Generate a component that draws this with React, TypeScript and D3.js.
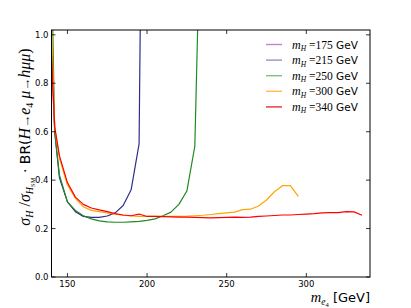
import React from 'react';
import * as d3 from 'd3';

// m_e4 [GeV], sigma ratio * BR
const curve175: [number, number][] = [[140, 2.0], [142, 10.0]];
const curve215: [number, number][] = [
  [140, 0.92], [142, 0.6], [145, 0.41], [150, 0.31], [155, 0.27], [160, 0.25], [165, 0.246],
  [170, 0.246], [175, 0.252], [180, 0.265], [185, 0.295], [190, 0.36], [195, 0.55], [200, 3.9],
];
const curve250: [number, number][] = [
  [140, 1.3], [142, 0.6], [145, 0.42], [150, 0.31], [155, 0.275], [160, 0.253], [165, 0.24],
  [170, 0.232], [175, 0.228], [180, 0.226], [185, 0.226], [190, 0.228], [195, 0.23], [200, 0.234],
  [205, 0.24], [210, 0.253], [215, 0.268], [220, 0.3], [225, 0.355], [230, 0.54], [235, 1.9],
];
const curve300: [number, number][] = [
  [140, 1.05], [142, 0.62], [145, 0.49], [150, 0.38], [155, 0.325], [160, 0.29], [165, 0.275],
  [170, 0.27], [175, 0.265], [180, 0.26], [185, 0.255], [190, 0.252], [195, 0.25], [200, 0.25],
  [205, 0.25], [210, 0.25], [215, 0.25], [220, 0.25], [225, 0.251], [230, 0.253], [235, 0.255],
  [240, 0.258], [245, 0.262], [250, 0.265], [255, 0.268], [260, 0.278], [265, 0.28], [270, 0.293],
  [275, 0.318], [280, 0.352], [285, 0.377], [290, 0.377], [295, 0.333],
];
const curve340: [number, number][] = [
  [140, 0.92], [142, 0.62], [145, 0.5], [150, 0.39], [155, 0.33], [160, 0.3], [165, 0.285],
  [170, 0.277], [175, 0.27], [180, 0.262], [185, 0.256], [190, 0.253], [195, 0.26], [200, 0.25],
  [205, 0.25], [210, 0.249], [215, 0.248], [220, 0.247], [225, 0.247], [230, 0.246], [235, 0.245],
  [240, 0.244], [245, 0.245], [250, 0.246], [255, 0.247], [260, 0.246], [265, 0.247], [270, 0.25],
  [275, 0.252], [280, 0.254], [285, 0.256], [290, 0.256], [295, 0.258], [300, 0.26], [305, 0.262],
  [310, 0.265], [315, 0.266], [320, 0.266], [325, 0.27], [330, 0.269], [335, 0.255],
];

const massLabels = ['175', '215', '250', '300', '340'];
const curves = [curve175, curve215, curve250, curve300, curve340];
const lineColors = ['#c060c0', '#2e2e8a', '#1f8a1f', '#ffa500', '#ff0000'];
const legendColors = ['#cc80cc', '#9494c8', '#80c080', '#ffbe50', '#e83030'];

const xTicks = [150, 200, 250, 300];
const yTicks = [0, 0.2, 0.4, 0.6, 0.8, 1.0];

const W = 411;
const H = 308;
const left = 51.5;
const right = 370;
const top = 30;
const bottom = 277;

const serif = '"Liberation Serif", "DejaVu Serif", serif';
const sans = '"DejaVu Sans", sans-serif';

export default function App() {
  const x = d3.scaleLinear().domain([140, 340]).range([left, right]);
  const y = d3.scaleLinear().domain([0, 1.02]).range([bottom, top]);
  const line = d3.line<[number, number]>().x(d => x(d[0])).y(d => y(d[1]));
  const tickLen = 4;

  return (
    <div style={{ position: 'absolute', left: 0, top: 0 }}>
      <svg width={W} height={H} style={{ display: 'block', background: '#fff' }}>
        <defs>
          <clipPath id="plot">
            <rect x={left} y={top} width={right - left} height={bottom - top} />
          </clipPath>
        </defs>

        <g clipPath="url(#plot)" fill="none" strokeWidth={1.2} strokeLinejoin="round">
          {curves.map((c, i) => (
            <path key={i} d={line(c) || ''} stroke={lineColors[i]} />
          ))}
        </g>

        {/* ticks, inward on all four sides */}
        <g stroke="#000" strokeWidth={0.8}>
          {xTicks.map(t => (
            <g key={t}>
              <line x1={x(t)} x2={x(t)} y1={bottom} y2={bottom - tickLen} />
              <line x1={x(t)} x2={x(t)} y1={top} y2={top + tickLen} />
            </g>
          ))}
          {yTicks.map(t => (
            <g key={t}>
              <line x1={left} x2={left + tickLen} y1={y(t)} y2={y(t)} />
              <line x1={right} x2={right - tickLen} y1={y(t)} y2={y(t)} />
            </g>
          ))}
        </g>
        <rect x={left} y={top} width={right - left} height={bottom - top} fill="none" stroke="#000" strokeWidth={1} />

        <g fontFamily={sans} fontSize={8.5} fill="#000">
          {xTicks.map(t => (
            <text key={t} x={x(t)} y={bottom + 9.5} textAnchor="middle">{t}</text>
          ))}
          {yTicks.map(t => (
            <text key={t} x={left - 3} y={y(t) + 3} textAnchor="end">{t.toFixed(1)}</text>
          ))}
        </g>

        {/* x label */}
        <text x={right} y={301.5} textAnchor="end" fontSize={13} fontFamily={sans}>
          <tspan fontFamily={serif} fontStyle="italic" fontSize={14.5}>m</tspan>
          <tspan fontFamily={serif} fontStyle="italic" fontSize={9.5} dy={3}>e</tspan>
          <tspan fontFamily={serif} fontSize={6.5} dy={2}>4</tspan>
          <tspan dy={-5}>{'  [GeV]'}</tspan>
        </text>

        {/* y label */}
        <text transform="translate(30,137) rotate(-90)" textAnchor="middle" fontSize={14} fontFamily={sans}>
          <tspan fontFamily={serif} fontStyle="italic" fontSize={16}>σ</tspan>
          <tspan fontFamily={serif} fontStyle="italic" fontSize={10} dy={3}>H</tspan>
          <tspan fontFamily={serif} fontSize={16} dy={-3}>{' /'}</tspan>
          <tspan fontFamily={serif} fontStyle="italic" fontSize={16}>σ</tspan>
          <tspan fontFamily={serif} fontStyle="italic" fontSize={10} dy={3}>H</tspan>
          <tspan fontFamily={serif} fontSize={6.5} dy={2}>SM</tspan>
          <tspan fontSize={14} dy={-5}>{' · BR('}</tspan>
          <tspan fontFamily={serif} fontStyle="italic" fontSize={16}>H</tspan>
          <tspan fontFamily={serif} fontSize={13}>→</tspan>
          <tspan fontFamily={serif} fontStyle="italic" fontSize={16}>e</tspan>
          <tspan fontFamily={serif} fontSize={10} dy={3}>4</tspan>
          <tspan fontFamily={serif} fontStyle="italic" fontSize={16} dy={-3}>{' μ'}</tspan>
          <tspan fontFamily={serif} fontSize={13}>→</tspan>
          <tspan fontFamily={serif} fontStyle="italic" fontSize={16}>hμμ</tspan>
          <tspan fontFamily={serif} fontSize={16}>)</tspan>
        </text>

        {/* legend */}
        <g>
          {massLabels.map((m, i) => {
            const ly = 44.5 + i * 15.6;
            return (
              <g key={m}>
                <line x1={266} x2={282} y1={ly} y2={ly} stroke={legendColors[i]} strokeWidth={1.4} />
                <text x={292} y={ly + 4} fontSize={10.5} fontFamily={sans}>
                  <tspan fontFamily={serif} fontStyle="italic" fontSize={12}>m</tspan>
                  <tspan fontFamily={serif} fontStyle="italic" fontSize={7.5} dy={2.5}>H</tspan>
                  <tspan fontFamily={serif} fontSize={11.5} dy={-2.5}>{' ='}{m}</tspan>
                  <tspan>{' GeV'}</tspan>
                </text>
              </g>
            );
          })}
        </g>
      </svg>
    </div>
  );
}
